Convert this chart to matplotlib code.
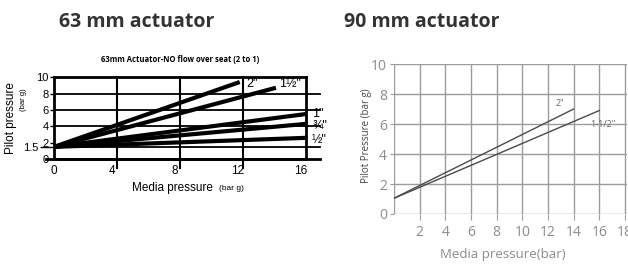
import matplotlib.pyplot as plt
import matplotlib.transforms as mtransforms

# 63 mm actuator (left panel) - lines start at 1.5 bar pilot pressure
left_sizes = ['2"', '1\u00bd"', '1"', '\u00be"', '\u00bd"']
left_start = (0, 1.5)
left_end_x = [11.8, 14.1, 16, 16, 16]
left_end_y = [9.4, 8.7, 5.5, 4.3, 2.6]
left_label_x = [12.2, 14.3, 16.4, 16.4, 16.4]
left_label_y = [9.1, 9.1, 5.5, 4.1, 2.3]
left_hlines = [8, 6, 4, 1.5]
left_vlines = [4, 8, 12]

# 90 mm actuator (right panel)
right_sizes = ['2"', '1-1/2"']
right_start = (0, 1.05)
right_end_x = [14, 16]
right_end_y = [7.0, 6.9]
right_label_x = [12.6, 15.3]
right_label_y = [7.4, 6.0]

fig = plt.figure(figsize=(6.28, 2.64), dpi=100)

fig.text(0.218, 0.915, '63 mm actuator', ha='center', va='center',
         fontsize=14, fontweight='bold', family='Open Sans', color='#333333')
fig.text(0.672, 0.915, '90 mm actuator', ha='center', va='center',
         fontsize=14, fontweight='bold', family='Open Sans', color='#333333')

# ---------- left chart ----------
ax = fig.add_axes([0.086, 0.397, 0.401, 0.311])
ax.set_xlim(0, 16)
ax.set_ylim(0, 10)
for s in ax.spines.values():
    s.set_linewidth(2)

for y in left_hlines:
    ax.axhline(y, xmin=0, xmax=1.055, color='black', lw=1.3, clip_on=False)
ax.axhline(0, xmin=-0.03, xmax=1.055, color='black', lw=2, clip_on=False)
for x in left_vlines:
    ax.axvline(x, ymin=-0.11, ymax=1, color='black', lw=1.5, clip_on=False)

for i in range(len(left_sizes)):
    ax.plot([left_start[0], left_end_x[i]], [left_start[1], left_end_y[i]],
            color='black', lw=3, solid_capstyle='butt')
    ax.text(left_label_x[i], left_label_y[i], left_sizes[i], fontsize=9,
            family='Liberation Sans', ha='left', va='center', clip_on=False)

ax.set_xticks([0, 4, 8, 12, 16])
ax.set_xticklabels(['0', '4', '8', '12', '16'], family='Liberation Sans', fontsize=8.5)
ax.tick_params(axis='x', length=0, pad=4)
off = mtransforms.ScaledTranslation(-5 / 100, 0, fig.dpi_scale_trans)
for lab in ax.get_xticklabels()[1:]:
    lab.set_transform(lab.get_transform() + off)

ax.set_yticks([0, 2, 4, 6, 8, 10])
ax.set_yticklabels(['0', '2', '4', '6', '8', '10'], family='Liberation Sans', fontsize=8)
ax.set_yticks([1.5], minor=True)
ax.set_yticklabels(['1.5'], minor=True, family='Liberation Sans', fontsize=8)
ax.tick_params(axis='y', which='major', length=3, width=1, pad=1)
ax.tick_params(axis='y', which='minor', length=10, width=1, pad=1)

ax.text(0.5, 1.22, '63mm Actuator-NO flow over seat (2 to 1)', transform=ax.transAxes,
        ha='center', va='center', fontsize=5.5, fontweight='bold', family='Open Sans')
ax.text(0.47, -0.35, 'Media pressure', transform=ax.transAxes, ha='center', va='center',
        fontsize=8.5, family='Liberation Sans')
ax.text(0.655, -0.36, '(bar g)', transform=ax.transAxes, ha='left', va='center',
        fontsize=6, family='Liberation Sans')
ax.text(-0.17, 0.5, 'Pilot pressure', transform=ax.transAxes, rotation=90,
        ha='center', va='center', fontsize=8.5, family='Liberation Sans')
ax.text(-0.12, 0.72, '(bar g)', transform=ax.transAxes, rotation=90,
        ha='center', va='center', fontsize=5.5, family='Liberation Sans')

# ---------- right chart ----------
gray = '#8c8c8c'
gridc = '#9c9c9c'
ax2 = fig.add_axes([0.6274, 0.1894, 0.3718, 0.568])
ax2.set_xlim(0, 18.2)
ax2.set_ylim(0, 10)
for s in ax2.spines.values():
    s.set_visible(False)
ax2.set_xticks(range(2, 19, 2))
ax2.set_yticks(range(0, 11, 2))
ax2.grid(True, color=gridc, lw=1)
ax2.axvline(0, color=gridc, lw=1)
ax2.tick_params(axis='x', length=4, color=gridc, pad=4, labelcolor=gray, labelsize=10)
ax2.tick_params(axis='y', length=3, color=gridc, pad=2, labelcolor=gray, labelsize=10)
for lab in ax2.get_xticklabels() + ax2.get_yticklabels():
    lab.set_family('Open Sans')

for i in range(len(right_sizes)):
    ax2.plot([right_start[0], right_end_x[i]], [right_start[1], right_end_y[i]],
             color='#4a4a4a', lw=1)
    ax2.text(right_label_x[i], right_label_y[i], right_sizes[i], fontsize=6.5,
             family='Open Sans', color='#666666', ha='left', va='center')

ax2.set_xlabel('Media pressure(bar)', family='Open Sans', fontsize=9.5, color=gray, va='center')
ax2.xaxis.set_label_coords(0.467, -0.273)
ax2.set_ylabel('Pilot Pressure (bar g)', family='Open Sans', fontsize=7, color='#444444')
ax2.yaxis.set_label_coords(-0.094, 0.52)

fig.savefig('out.png', dpi=100)
